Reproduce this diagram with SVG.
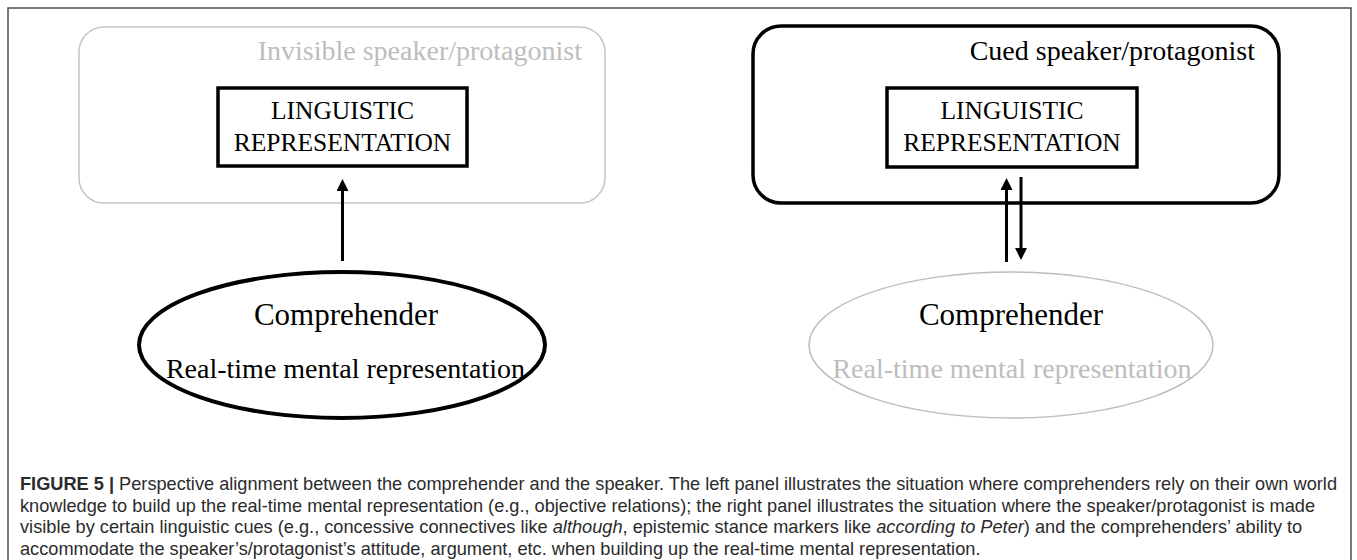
<svg xmlns="http://www.w3.org/2000/svg" width="1357" height="560" viewBox="0 0 1357 560">
  <style>
    .serif { font-family: "Liberation Serif", "Times New Roman", serif; }
    .gray { fill: #bdbdbd; }
    .blk { fill: #000; }
    .cap { font-family: "Liberation Sans", Arial, sans-serif; font-size: 18.2px; fill: #2b2b2b; }
    .conn { stroke: #000; stroke-width: 3; fill: none; }
  </style>
  <defs>
    <marker id="head" markerUnits="userSpaceOnUse" markerWidth="13" markerHeight="12" refX="0" refY="6" orient="auto">
      <path d="M0,0 L12,6 L0,12 Z" fill="#000"/>
    </marker>
  </defs>
  <rect width="1357" height="560" fill="#fff"/>
  <path d="M8,570 V8 H1351 V570" fill="none" stroke="#4d4d4d" stroke-width="1.5"/>

  <g id="left-speaker">
    <rect x="79" y="27" width="526" height="176" rx="25" fill="none" stroke="#c4c4c4" stroke-width="1.5"/>
    <text class="serif gray" x="582" y="60" font-size="28" text-anchor="end">Invisible speaker/protagonist</text>
  </g>
  <g id="left-linguistic">
    <rect x="218" y="88" width="249" height="78" fill="#fff" stroke="#000" stroke-width="3.5"/>
    <text class="serif blk" x="342.5" y="119" font-size="25.5" text-anchor="middle">LINGUISTIC</text>
    <text class="serif blk" x="342.5" y="151" font-size="25.5" text-anchor="middle">REPRESENTATION</text>
  </g>
  <g id="left-comprehender">
    <ellipse cx="342" cy="345" rx="203" ry="73" fill="none" stroke="#000" stroke-width="4"/>
    <text class="serif blk" x="346" y="325" font-size="31" text-anchor="middle">Comprehender</text>
    <text class="serif blk" x="345.5" y="378" font-size="28" text-anchor="middle">Real-time mental representation</text>
  </g>

  <g id="right-speaker">
    <rect x="753" y="26" width="526" height="177" rx="28" fill="none" stroke="#000" stroke-width="3.5"/>
    <text class="serif blk" x="1255" y="60" font-size="28" text-anchor="end">Cued speaker/protagonist</text>
  </g>
  <g id="right-linguistic">
    <rect x="887" y="88" width="250" height="79" fill="#fff" stroke="#000" stroke-width="3.5"/>
    <text class="serif blk" x="1012" y="119" font-size="25.5" text-anchor="middle">LINGUISTIC</text>
    <text class="serif blk" x="1012" y="151" font-size="25.5" text-anchor="middle">REPRESENTATION</text>
  </g>
  <g id="right-comprehender">
    <ellipse cx="1011" cy="345" rx="202" ry="73" fill="none" stroke="#bdbdbd" stroke-width="1.5"/>
    <text class="serif blk" x="1011" y="325" font-size="31" text-anchor="middle">Comprehender</text>
    <text class="serif gray" x="1012" y="378" font-size="28" text-anchor="middle">Real-time mental representation</text>
  </g>

  <g id="connectors">
    <line class="conn" x1="342.5" y1="261" x2="342.5" y2="191" marker-end="url(#head)"/>
    <line class="conn" x1="1006.5" y1="262" x2="1006.5" y2="190" marker-end="url(#head)"/>
    <line class="conn" x1="1021" y1="177" x2="1021" y2="248" marker-end="url(#head)"/>
  </g>

  <g id="caption" class="cap">
    <text x="20" y="490"><tspan font-weight="bold">FIGURE 5 |</tspan> Perspective alignment between the comprehender and the speaker. The left panel illustrates the situation where comprehenders rely on their own world</text>
    <text x="20" y="511.5">knowledge to build up the real-time mental representation (e.g., objective relations); the right panel illustrates the situation where the speaker/protagonist is made</text>
    <text x="20" y="533">visible by certain linguistic cues (e.g., concessive connectives like <tspan font-style="italic">although</tspan>, epistemic stance markers like <tspan font-style="italic">according to Peter</tspan>) and the comprehenders’ ability to</text>
    <text x="20" y="554.5">accommodate the speaker’s/protagonist’s attitude, argument, etc. when building up the real-time mental representation.</text>
  </g>
</svg>
